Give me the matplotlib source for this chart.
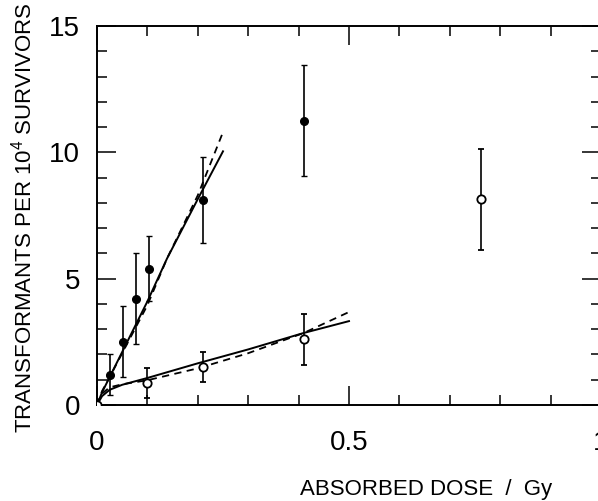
import matplotlib
matplotlib.use("Agg")
import matplotlib.pyplot as plt
from matplotlib.ticker import MultipleLocator

plt.rcParams['font.family'] = ['Liberation Sans', 'DejaVu Sans']

# filled circles with error bars
dose_filled = [0.026, 0.052, 0.077, 0.103, 0.21, 0.41]
tf_filled = [1.2, 2.5, 4.2, 5.4, 8.1, 11.25]
err_filled = [0.8, 1.4, 1.8, 1.3, 1.7, 2.2]

# open circles with error bars
dose_open = [0.0, 0.10, 0.21, 0.41, 0.762]
tf_open = [0.0, 0.87, 1.5, 2.6, 8.15]
err_open = [0.0, 0.6, 0.6, 1.0, 2.0]

# fitted curves
fit_f_x = [0.0, 0.01, 0.025, 0.1, 0.139, 0.2, 0.25]
fit_f_solid = [0.0, 0.5, 1.1, 4.1, 5.8, 8.15, 10.04]
fit_f_dash = [0.0, 0.55, 1.1, 3.95, 5.8, 8.3, 10.8]

fit_o_x = [0.0, 0.01, 0.025, 0.05, 0.1, 0.2, 0.3, 0.41, 0.5]
fit_o_solid = [0.0, 0.35, 0.6, 0.8, 1.07, 1.65, 2.2, 2.85, 3.32]
fit_o_dash = [0.0, 0.45, 0.7, 0.82, 0.98, 1.45, 2.05, 2.85, 3.68]


def main():
    fig = plt.figure(figsize=(5.98, 5.01), dpi=100)
    ax = fig.add_axes([97 / 598, 96 / 501, 504 / 598, 379 / 501])

    ax.plot(fit_f_x, fit_f_solid, color='black', lw=1.4)
    ax.plot(fit_f_x, fit_f_dash, color='black', lw=1.3, ls=(0, (4, 3)))
    ax.plot(fit_o_x, fit_o_solid, color='black', lw=1.4)
    ax.plot(fit_o_x, fit_o_dash, color='black', lw=1.3, ls=(0, (4, 3)))

    ax.errorbar(dose_filled, tf_filled, yerr=err_filled, fmt='o', color='black',
                ms=5.5, elinewidth=1.2, capsize=2, capthick=1.0, zorder=3)
    ax.errorbar(dose_open, tf_open, yerr=err_open, fmt='o', color='black',
                mfc='white', mec='black', mew=1.3, ms=6, elinewidth=1.2,
                capsize=2, capthick=1.0, zorder=3)

    ax.set_xlim(0, 1)
    ax.set_ylim(0, 15)
    ax.xaxis.set_minor_locator(MultipleLocator(0.1))
    ax.yaxis.set_minor_locator(MultipleLocator(1))
    ax.set_xticks([0, 0.5, 1])
    ax.set_xticklabels(['0', '0.5', '1'])
    ax.set_yticks([0, 5, 10, 15])
    ax.set_yticklabels(['0', '5', '10', '15'])

    ax.tick_params(which='both', direction='in', top=True, right=True, width=1.1,
                   labelsize=20)
    ax.tick_params(which='major', length=14)
    ax.tick_params(which='minor', length=7)
    ax.tick_params(axis='x', which='major', pad=18)
    ax.tick_params(axis='y', which='major', pad=12)
    for s in ax.spines.values():
        s.set_linewidth(1.4)

    fig.text(24 / 598, 1 - 218 / 501, 'TRANSFORMANTS PER 10$^{\\mathregular{4}}$ SURVIVORS',
             rotation=90, ha='center', va='center', fontsize=16)
    fig.text(426 / 598, 6 / 501, 'ABSORBED DOSE  /  Gy', ha='center', va='baseline',
             fontsize=16)

    fig.savefig('out.png', dpi=100)


if __name__ == "__main__":
    main()
